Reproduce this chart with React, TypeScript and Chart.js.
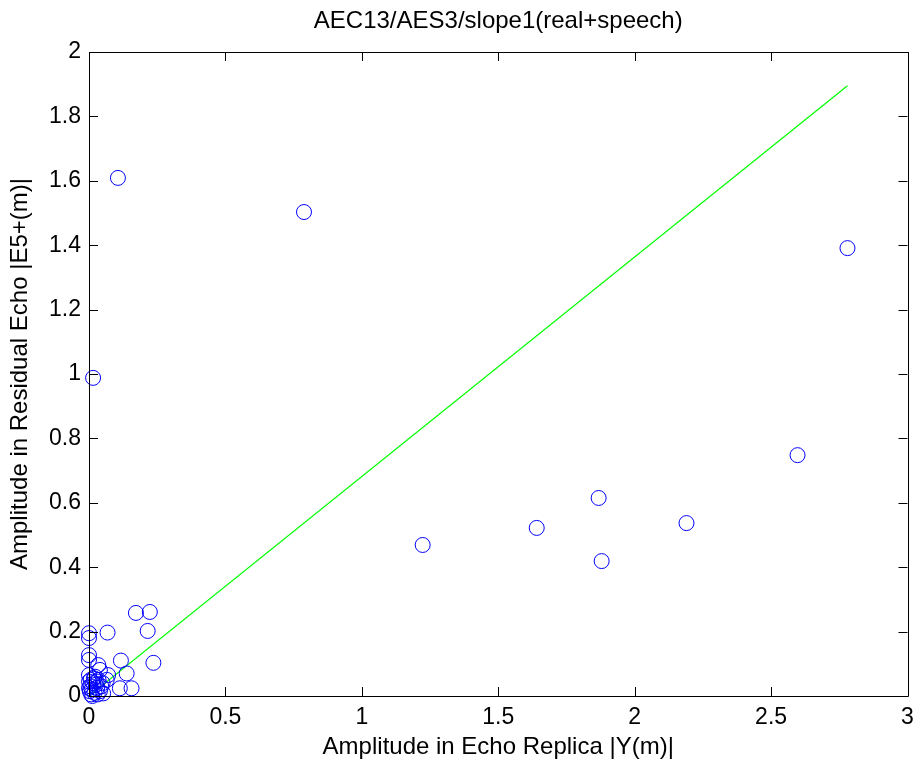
import React, { useEffect, useRef } from "react";
import { Chart, registerables } from "chart.js";

Chart.register(...registerables);

const titleText = "AEC13/AES3/slope1(real+speech)";
const xLabel = "Amplitude in Echo Replica |Y(m)|";
const yLabel = "Amplitude in Residual Echo |E5+(m)|";

const xTicks = [0, 0.5, 1, 1.5, 2, 2.5, 3];
const yTicks = [0, 0.2, 0.4, 0.6, 0.8, 1, 1.2, 1.4, 1.6, 1.8, 2];

const replicaX = [
  0.106, 0.788, 2.78, 0.015, 2.597, 1.868, 1.641, 2.19, 1.223, 1.879,
  0.223, 0.172, 0.215, 0.068, 0.0, 0.0, 0.0, 0.0, 0.117, 0.236,
  0.034, 0.04, 0.138, 0.07, 0.0, 0.065, 0.156, 0.113, 0.052,
  0.0, 0.005, 0.01, 0.015, 0.02, 0.025, 0.03, 0.008, 0.003, 0.035,
  0.045, 0.018, 0.04, 0.012, 0.028, 0.0, 0.022, 0.05, 0.006, 0.032,
];
const residualY = [
  1.609, 1.503, 1.391, 0.988, 0.748, 0.615, 0.522, 0.537, 0.469, 0.419,
  0.261, 0.258, 0.202, 0.197, 0.195, 0.18, 0.127, 0.112, 0.11, 0.103,
  0.096, 0.081, 0.07, 0.065, 0.065, 0.05, 0.024, 0.024, 0.008,
  0.045, 0.03, 0.02, 0.04, 0.01, 0.035, 0.025, 0.005, 0.015, 0.05,
  0.03, 0.055, 0.015, 0.0, 0.045, 0.025, 0.06, 0.04, 0.05, 0.005,
];

const fitX = [0, 2.78];
const fitY = [0, 1.895];

const fmt = (v: number) => String(+Number(v).toFixed(2));
const FONT = "Arial, 'Liberation Sans', sans-serif";

const framePlugin = {
  id: "matlabFrame",
  afterDatasetsDraw(chart: any) {
    const { ctx, chartArea, scales } = chart;
    const { left, right, top, bottom } = chartArea;
    const tl = 9;
    ctx.save();
    ctx.strokeStyle = "#000";
    ctx.lineWidth = 1;
    ctx.beginPath();
    ctx.rect(Math.round(left) + 0.5, Math.round(top) + 0.5, Math.round(right - left), Math.round(bottom - top));
    for (const t of xTicks) {
      const px = Math.round(scales.x.getPixelForValue(t)) + 0.5;
      ctx.moveTo(px, bottom);
      ctx.lineTo(px, bottom - tl);
      ctx.moveTo(px, top);
      ctx.lineTo(px, top + tl);
    }
    for (const t of yTicks) {
      const py = Math.round(scales.y.getPixelForValue(t)) + 0.5;
      ctx.moveTo(left, py);
      ctx.lineTo(left + tl, py);
      ctx.moveTo(right, py);
      ctx.lineTo(right - tl, py);
    }
    ctx.stroke();
    ctx.fillStyle = "#000";
    ctx.font = `24px ${FONT}`;
    ctx.textAlign = "center";
    ctx.textBaseline = "middle";
    ctx.fillText(titleText, (left + right) / 2, 21);
    ctx.restore();
  },
};

export default function App() {
  const ref = useRef<HTMLCanvasElement | null>(null);

  useEffect(() => {
    document.body.style.margin = "0";
    const canvas = ref.current;
    if (!canvas) return;
    const pts = replicaX.map((x, i) => ({ x, y: residualY[i] }));
    const line = fitX.map((x, i) => ({ x, y: fitY[i] }));
    const font = { family: FONT };
    const chart = new Chart(canvas, {
      type: "scatter",
      data: {
        datasets: [
          {
            label: "data",
            data: pts,
            pointStyle: "circle",
            pointRadius: 7.5,
            pointBorderWidth: 1,
            borderColor: "#0000ff",
            backgroundColor: "rgba(0,0,0,0)",
            showLine: false,
            clip: false as any,
          },
          {
            label: "fit",
            type: "line" as any,
            data: line,
            borderColor: "#00ff00",
            borderWidth: 1.2,
            pointRadius: 0,
            fill: false,
          },
        ],
      },
      options: {
        responsive: false,
        animation: false,
        events: [],
        layout: { padding: { left: 0, right: 8, top: 52, bottom: 0 } },
        plugins: {
          legend: { display: false },
          tooltip: { enabled: false },
          title: { display: false },
        },
        scales: {
          x: {
            type: "linear",
            min: 0,
            max: 3,
            afterBuildTicks: (s: any) => {
              s.ticks = xTicks.map((v) => ({ value: v }));
            },
            afterFit: (s: any) => {
              s.height = 69;
              s.paddingLeft = 0;
              s.paddingRight = 0;
            },
            grid: { display: false, drawTicks: false },
            border: { display: false },
            ticks: {
              color: "#000",
              font: { ...font, size: 23 },
              padding: 8,
              maxRotation: 0,
              callback: (v: any) => fmt(v),
            },
            title: {
              display: true,
              text: xLabel,
              color: "#000",
              font: { ...font, size: 24 },
              padding: { top: 0, bottom: 3 },
            },
          },
          y: {
            type: "linear",
            min: 0,
            max: 2,
            afterBuildTicks: (s: any) => {
              s.ticks = yTicks.map((v) => ({ value: v }));
            },
            afterFit: (s: any) => {
              s.width = 89;
              s.paddingTop = 0;
              s.paddingBottom = 0;
            },
            grid: { display: false, drawTicks: false },
            border: { display: false },
            ticks: {
              color: "#000",
              font: { ...font, size: 23 },
              padding: 8,
              callback: (v: any) => fmt(v),
            },
            title: {
              display: true,
              text: yLabel,
              color: "#000",
              font: { ...font, size: 24 },
              padding: { top: 6, bottom: 0 },
            },
          },
        },
      } as any,
      plugins: [framePlugin],
    });
    return () => chart.destroy();
  }, []);

  return (
    <div style={{ position: "absolute", left: 0, top: 0, width: 916, height: 765, background: "#fff" }}>
      <canvas ref={ref} width={916} height={765} style={{ width: 916, height: 765 }} />
    </div>
  );
}
